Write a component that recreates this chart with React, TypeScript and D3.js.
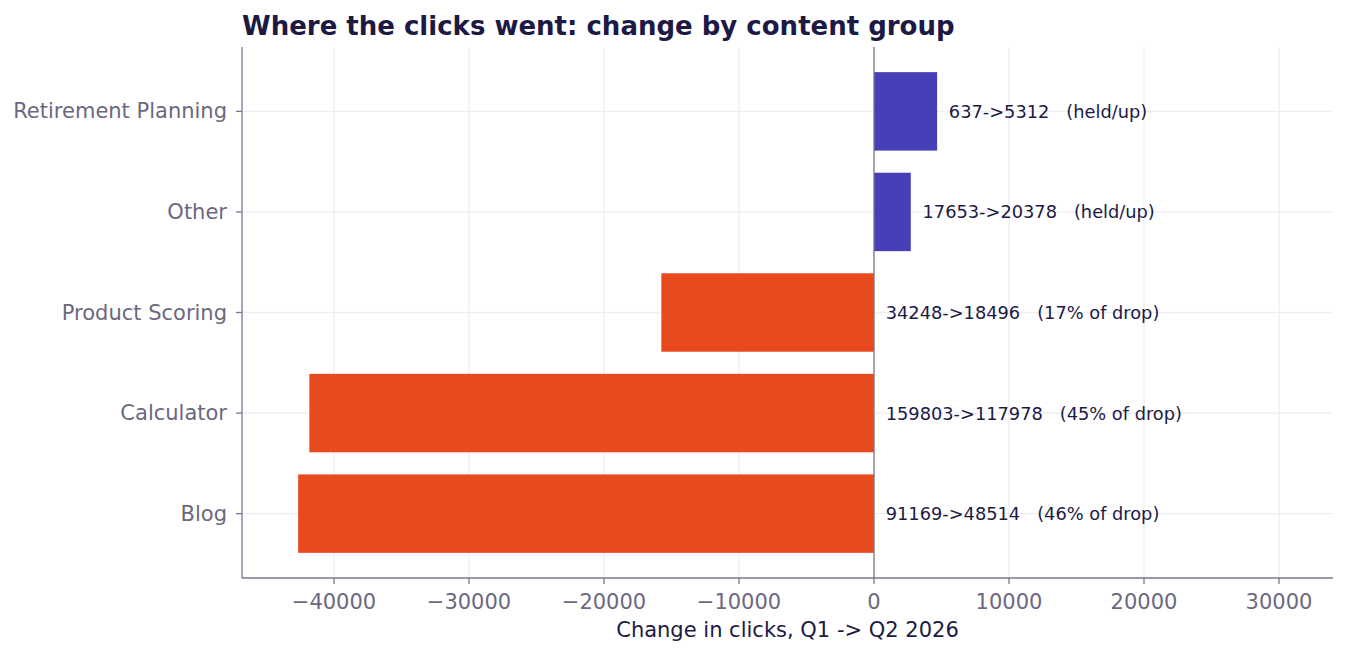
import { useEffect, useRef } from 'react'
import * as d3 from 'd3'

const GROUPS = ['Blog', 'Calculator', 'Product Scoring', 'Other', 'Retirement Planning']
const Q1_CLICKS = [91169, 159803, 34248, 17653, 637]
const Q2_CLICKS = [48514, 117978, 18496, 20378, 5312]
const DROP_SHARE = ['46% of drop', '45% of drop', '17% of drop', 'held/up', 'held/up']
const X_TICKS = [-40000, -30000, -20000, -10000, 0, 10000, 20000, 30000]

const W = 1349
const H = 656
const FONT = "'DejaVu Sans', sans-serif"
const INK = '#1c1a45'
const MUTED = '#6b6880'
const SPINE = '#7a7890'
const GRID = '#eeedf2'
const UP = '#4540b8'
const DOWN = '#e8491d'

export default function App() {
  const svgRef = useRef<SVGSVGElement>(null)

  useEffect(() => {
    const svg = svgRef.current
    if (!svg) return

    const margin = { top: 47, right: 16, bottom: 78, left: 242 }
    const iW = W - margin.left - margin.right
    const iH = H - margin.top - margin.bottom

    const deltas = GROUPS.map((_, i) => Q2_CLICKS[i] - Q1_CLICKS[i])

    const x = d3.scaleLinear().domain([-46815, 34000]).range([0, iW])
    const y = d3.scaleLinear().domain([-0.64, GROUPS.length - 1 + 0.64]).range([iH, 0])
    const barH = y(0) - y(0.78)

    const sel = d3.select(svg)
    sel.selectAll('*').remove()
    const g = sel.append('g').attr('transform', `translate(${margin.left},${margin.top})`)

    // grid
    X_TICKS.forEach((t) => {
      g.append('line')
        .attr('x1', x(t)).attr('x2', x(t))
        .attr('y1', 0).attr('y2', iH)
        .attr('stroke', GRID).attr('stroke-width', 1.3)
    })
    GROUPS.forEach((_, i) => {
      g.append('line')
        .attr('x1', 0).attr('x2', iW)
        .attr('y1', y(i)).attr('y2', y(i))
        .attr('stroke', GRID).attr('stroke-width', 1.3)
    })

    // bars
    deltas.forEach((d, i) => {
      g.append('rect')
        .attr('x', x(Math.min(d, 0)))
        .attr('y', y(i) - barH / 2)
        .attr('width', Math.abs(x(d) - x(0)))
        .attr('height', barH)
        .attr('fill', d >= 0 ? UP : DOWN)
    })

    // zero line
    g.append('line')
      .attr('x1', x(0)).attr('x2', x(0))
      .attr('y1', 0).attr('y2', iH)
      .attr('stroke', SPINE).attr('stroke-width', 1.3)

    // value labels
    deltas.forEach((d, i) => {
      g.append('text')
        .attr('x', x(Math.max(d, 0) + 870))
        .attr('y', y(i))
        .attr('dominant-baseline', 'central')
        .attr('fill', INK).attr('font-size', '17.8px')
        .attr('font-family', FONT)
        .attr('xml:space', 'preserve')
        .text(`${Q1_CLICKS[i]}->${Q2_CLICKS[i]}   (${DROP_SHARE[i]})`)
    })

    // spines
    g.append('line')
      .attr('x1', 0).attr('x2', 0).attr('y1', 0).attr('y2', iH)
      .attr('stroke', SPINE).attr('stroke-width', 1.3)
    g.append('line')
      .attr('x1', 0).attr('x2', iW).attr('y1', iH).attr('y2', iH)
      .attr('stroke', SPINE).attr('stroke-width', 1.3)

    // x ticks
    X_TICKS.forEach((t) => {
      g.append('line')
        .attr('x1', x(t)).attr('x2', x(t))
        .attr('y1', iH).attr('y2', iH + 6)
        .attr('stroke', SPINE).attr('stroke-width', 1.3)
      g.append('text')
        .attr('x', x(t)).attr('y', iH + 31)
        .attr('text-anchor', 'middle')
        .attr('fill', MUTED).attr('font-size', '21px')
        .attr('font-family', FONT)
        .text(t < 0 ? `\u2212${Math.abs(t)}` : String(t))
    })

    // y ticks
    GROUPS.forEach((name, i) => {
      g.append('line')
        .attr('x1', -6).attr('x2', 0)
        .attr('y1', y(i)).attr('y2', y(i))
        .attr('stroke', SPINE).attr('stroke-width', 1.3)
      g.append('text')
        .attr('x', -15).attr('y', y(i))
        .attr('text-anchor', 'end').attr('dominant-baseline', 'central')
        .attr('fill', MUTED).attr('font-size', '21px')
        .attr('font-family', FONT)
        .text(name)
    })

    g.append('text')
      .attr('x', iW / 2).attr('y', iH + 59)
      .attr('text-anchor', 'middle')
      .attr('fill', INK).attr('font-size', '21px')
      .attr('font-family', FONT)
      .text('Change in clicks, Q1 -> Q2 2026')

    g.append('text')
      .attr('x', 0).attr('y', -12)
      .attr('fill', INK).attr('font-size', '26px').attr('font-weight', 'bold')
      .attr('font-family', FONT)
      .text('Where the clicks went: change by content group')
  }, [])

  return (
    <svg
      ref={svgRef}
      width={W}
      height={H}
      style={{ position: 'absolute', left: 0, top: 0, background: '#fff' }}
    />
  )
}
